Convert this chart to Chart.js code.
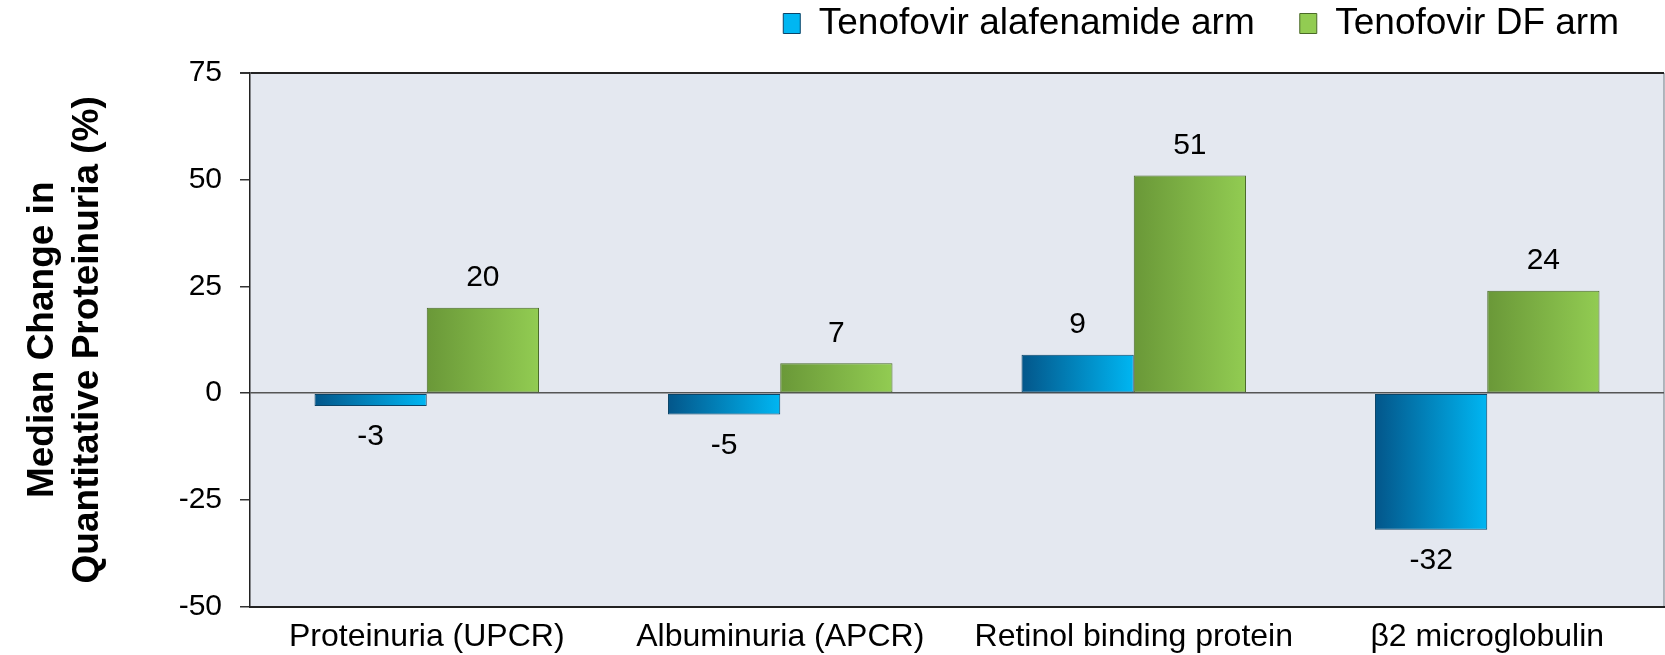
<!DOCTYPE html>
<html>
<head>
<meta charset="utf-8">
<script src="https://cdn.jsdelivr.net/npm/chart.js@4/dist/chart.umd.min.js"></script>
<style>
  body { margin: 0; background: #fff; }
  #wrap { width: 1665px; height: 655px; }
</style>
</head>
<body>
<div id="wrap"><canvas id="barChart"></canvas></div>
<script>
// data
const categories = ['Proteinuria (UPCR)', 'Albuminuria (APCR)', 'Retinol binding protein', 'β2 microglobulin'];
const tafValues = [-3, -5, 9, -32];
const tdfValues = [20, 7, 51, 24];
const seriesNames = ['Tenofovir alafenamide arm', 'Tenofovir DF arm'];
const yMin = -50, yMax = 75, yStep = 25;

const CAT_PCT = 0.635;

Chart.defaults.font.family = '"Liberation Sans", Arial, sans-serif';
Chart.defaults.color = '#000';

// gradient across the width of each bar (dark left -> light right)
function barFill(dark, light, solid) {
    return function (ctx) {
        const chart = ctx.chart;
        const xs = chart.scales.x;
        if (ctx.type !== 'data' || !xs) return solid;
        const center = xs.getPixelForValue(ctx.dataIndex);
        const w = (xs.right - xs.left) / categories.length * CAT_PCT / 2;
        const left = ctx.datasetIndex === 0 ? center - w : center;
        if (!Number.isFinite(left) || !Number.isFinite(w) || w <= 0) return solid;
        const g = chart.ctx.createLinearGradient(left, 0, left + w, 0);
        g.addColorStop(0, dark);
        g.addColorStop(1, light);
        return g;
    };
}

// plot background + right frame line
const plotFrame = {
    id: 'plotFrame',
    beforeDraw(chart) {
        const a = chart.chartArea, c = chart.ctx;
        c.save();
        c.fillStyle = '#e4e8f0';
        c.fillRect(a.left, a.top, a.right - a.left, a.bottom - a.top);
        c.strokeStyle = '#9aa0a8';
        c.lineWidth = 1.5;
        c.beginPath();
        c.moveTo(a.right, a.top);
        c.lineTo(a.right, a.bottom);
        c.stroke();
        c.restore();
    }
};

// value labels above / below the bars
const valueLabels = {
    id: 'valueLabels',
    afterDatasetsDraw(chart) {
        const c = chart.ctx;
        c.save();
        c.font = '30px "Liberation Sans", Arial, sans-serif';
        c.fillStyle = '#000';
        c.textAlign = 'center';
        c.textBaseline = 'middle';
        chart.data.datasets.forEach((ds, i) => {
            chart.getDatasetMeta(i).data.forEach((bar, j) => {
                const v = ds.data[j];
                const y = v >= 0 ? bar.y - 30 : bar.y + 31;
                c.fillText(String(v), bar.x, y);
            });
        });
        c.restore();
    }
};

new Chart(document.getElementById('barChart'), {
    type: 'bar',
    data: {
        labels: categories,
        datasets: [{
            label: seriesNames[0],
            data: tafValues,
            backgroundColor: barFill('#03568a', '#00b6f2', '#0a84c4'),
            borderColor: '#0b4468',
            borderWidth: 1,
            borderSkipped: false,
            categoryPercentage: CAT_PCT,
            barPercentage: 1.0
        }, {
            label: seriesNames[1],
            data: tdfValues,
            backgroundColor: barFill('#6a9838', '#92cc52', '#76a83f'),
            borderColor: '#4a6a28',
            borderWidth: 1,
            borderSkipped: false,
            categoryPercentage: CAT_PCT,
            barPercentage: 1.0
        }]
    },
    options: {
        responsive: true,
        maintainAspectRatio: false,
        animation: false,
        layout: { padding: { top: -40, right: 1, bottom: -12, left: 0 } },
        plugins: {
            legend: {
                display: true,
                position: 'top',
                align: 'end',
                labels: {
                    font: { size: 37 },
                    color: '#000',
                    boxWidth: 17,
                    boxHeight: 20,
                    padding: 45
                }
            },
            // empty spacer between legend and plot
            subtitle: {
                display: true,
                text: '',
                weight: 500,
                font: { size: 10 },
                padding: { top: 0, bottom: 9 }
            },
            tooltip: { enabled: false }
        },
        scales: {
            x: {
                grid: { display: false, drawTicks: false },
                border: { display: true, color: '#222', width: 2 },
                ticks: { font: { size: 32 }, color: '#000', padding: 11, maxRotation: 0 }
            },
            y: {
                min: yMin,
                max: yMax,
                afterFit(scale) { scale.width = 250; },
                ticks: { stepSize: yStep, font: { size: 30 }, color: '#000', padding: 18 },
                grid: {
                    color: c => c.tick.value === 0 ? '#555' : (c.tick.value === yMax ? '#222' : 'rgba(0,0,0,0)'),
                    lineWidth: c => c.tick.value === yMax ? 2 : 1.5,
                    tickColor: '#333',
                    tickLength: 10
                },
                border: { display: true, color: '#222', width: 1.5 },
                title: {
                    display: true,
                    text: ['Median Change in', 'Quantitative Proteinuria (%)'],
                    font: { size: 37, weight: 'bold' },
                    color: '#000',
                    padding: { top: 21, bottom: 0 }
                }
            }
        }
    },
    plugins: [plotFrame, valueLabels]
});
</script>
</body>
</html>
